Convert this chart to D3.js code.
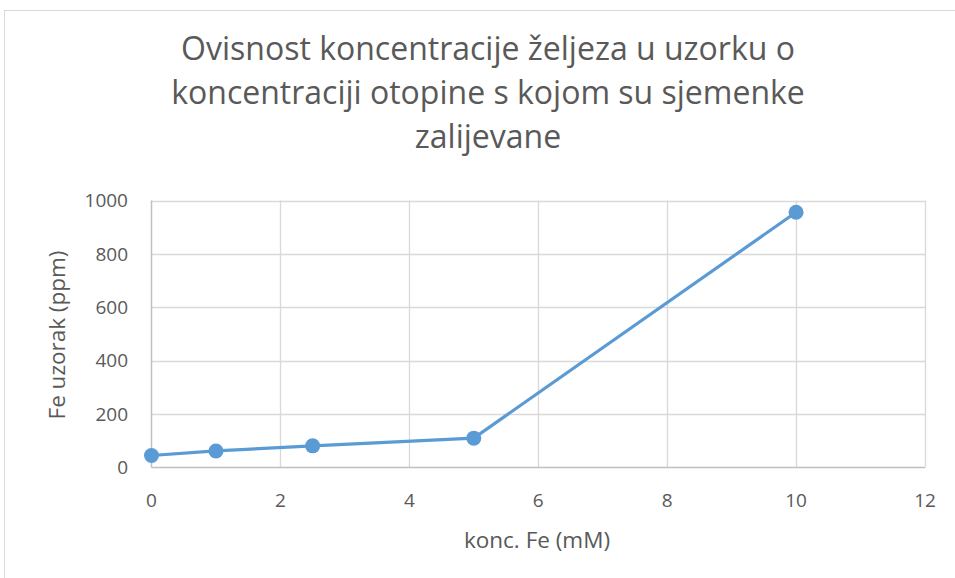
<!DOCTYPE html>
<html>
<head>
<meta charset="utf-8">
<script src="https://cdn.jsdelivr.net/npm/d3@7"></script>
<style>
  body { margin: 0; background: #fff; }
  text { font-family: "Open Sans", sans-serif; fill: #595959; }
</style>
</head>
<body>
<svg id="chart" width="955" height="578"></svg>
<script>
// Data
const koncFe = [0, 1, 2.5, 5, 10];
const feUzorak = [45, 62, 81, 110, 956];
const xTicks = [0, 2, 4, 6, 8, 10, 12];
const yTicks = [0, 200, 400, 600, 800, 1000];
const titleLines = ["Ovisnost koncentracije željeza u uzorku o", "koncentraciji otopine s kojom su sjemenke", "zalijevane"];

const data = koncFe.map((k, i) => ({ x: k, y: feUzorak[i] }));

const svg = d3.select("#chart");

// chart border
svg.append("rect")
    .attr("x", 4.5).attr("y", 10.5)
    .attr("width", 960).attr("height", 600)
    .attr("fill", "#fff")
    .attr("stroke", "#d9d9d9");

const plotLeft = 151.5, plotRight = 925, plotTop = 200.5, plotBottom = 467.5;

const x = d3.scaleLinear().domain([0, 12]).range([plotLeft, plotRight]);
const y = d3.scaleLinear().domain([0, 1000]).range([plotBottom, plotTop]);

// gridlines
svg.append("g")
    .selectAll("line")
    .data(yTicks.slice(1))
    .join("line")
    .attr("x1", plotLeft).attr("x2", plotRight)
    .attr("y1", d => Math.round(y(d)) + 0.5).attr("y2", d => Math.round(y(d)) + 0.5)
    .attr("stroke", "#d9d9d9").attr("stroke-width", 1.3);

svg.append("g")
    .selectAll("line")
    .data(xTicks.slice(1))
    .join("line")
    .attr("x1", d => Math.round(x(d)) + 0.5).attr("x2", d => Math.round(x(d)) + 0.5)
    .attr("y1", plotTop).attr("y2", plotBottom)
    .attr("stroke", "#d9d9d9").attr("stroke-width", 1.3);

// axis lines
svg.append("line")
    .attr("x1", plotLeft).attr("x2", plotLeft).attr("y1", plotTop).attr("y2", plotBottom)
    .attr("stroke", "#bfbfbf").attr("stroke-width", 1.5);
svg.append("line")
    .attr("x1", plotLeft).attr("x2", plotRight).attr("y1", plotBottom).attr("y2", plotBottom)
    .attr("stroke", "#bfbfbf").attr("stroke-width", 1.5);

// tick labels
svg.append("g")
    .selectAll("text")
    .data(yTicks)
    .join("text")
    .attr("x", 128)
    .attr("y", d => y(d))
    .attr("dy", "0.35em")
    .attr("text-anchor", "end")
    .attr("font-size", 19)
    .text(d => d);

svg.append("g")
    .selectAll("text")
    .data(xTicks)
    .join("text")
    .attr("x", d => x(d))
    .attr("y", 507)
    .attr("text-anchor", "middle")
    .attr("font-size", 19)
    .text(d => d);

// axis titles
svg.append("text")
    .attr("x", 537).attr("y", 548)
    .attr("text-anchor", "middle")
    .attr("font-size", 22.5)
    .text("konc. Fe (mM)");

svg.append("text")
    .attr("transform", "translate(65,335) rotate(-90)")
    .attr("text-anchor", "middle")
    .attr("font-size", 22.5)
    .text("Fe uzorak (ppm)");

// title
svg.append("g")
    .selectAll("text")
    .data(titleLines)
    .join("text")
    .attr("x", 488)
    .attr("y", (d, i) => 60 + i * 44)
    .attr("text-anchor", "middle")
    .attr("font-size", 32)
    .text(d => d);

// line + markers
svg.append("path")
    .datum(data)
    .attr("fill", "none")
    .attr("stroke", "#5b9bd5")
    .attr("stroke-width", 3.2)
    .attr("stroke-linejoin", "round")
    .attr("d", d3.line().x(d => x(d.x)).y(d => y(d.y)));

svg.append("g")
    .selectAll("circle")
    .data(data)
    .join("circle")
    .attr("cx", d => x(d.x))
    .attr("cy", d => y(d.y))
    .attr("r", 7.5)
    .attr("fill", "#5b9bd5");
</script>
</body>
</html>
